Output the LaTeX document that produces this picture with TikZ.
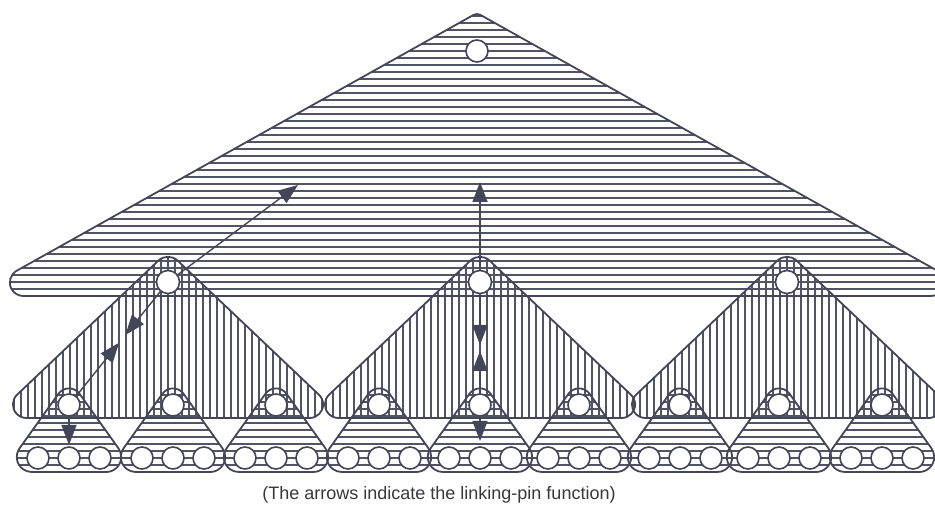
\documentclass[tikz,border=0pt]{standalone}
\usepackage{fontspec}
\setmainfont{Liberation Sans}
\usetikzlibrary{arrows.meta,calc}
\definecolor{linec}{RGB}{66,70,86}
\definecolor{hatchc}{RGB}{80,84,100}
\definecolor{txtc}{RGB}{55,55,65}
% rounded triangle: apex x, apex (sharp) y, base y, base angle, apex radius, base radius
\newcommand\tripath[6]{({#1-(#2-#3)/tan(#4)+#6/tan(#4/2)},#3) -- ({#1+(#2-#3)/tan(#4)-#6/tan(#4/2)},#3) arc[start angle=-90,end angle={90-#4},radius=#6pt] -- ({#1+#5*tan(#4)*cos(#4)},{#2-#5*tan(#4)*sin(#4)}) arc[start angle={90-#4},end angle={90+#4},radius=#5pt] -- ({#1-(#2-#3)/tan(#4)+#6/tan(#4/2)*cos(#4)},{#3+#6/tan(#4/2)*sin(#4)}) arc[start angle={90+#4},end angle=270,radius=#6pt] -- cycle}
\newcommand\toptri{\tripath{477}{497}{214}{29.25}{7}{13.5}}
\newcommand\midtri[1]{\tripath{#1}{258.5}{92}{43.5}{14}{13.5}}
\newcommand\bottri[1]{\tripath{#1}{131}{38}{54.5}{13}{15}}
\begin{document}
\begin{tikzpicture}[x=1pt,y=1pt,
  hatch/.style={draw=hatchc,line width=1.3pt},
  outl/.style={draw=linec,line width=1.8pt},
  pc/.style={circle,draw=linec,fill=white,line width=1.6pt,minimum size=22pt,inner sep=0pt},
  arr/.style={draw=linec,line width=1.4pt,-{Triangle[length=20pt,width=15pt]}}]
\useasboundingbox (0,0) rectangle (935,510);
% hatching of top organisation
\begin{scope}
  \clip \toptri;
  \foreach \k in {1,...,41} \draw[hatch] (-50,{214+\k*7}) -- (1000,{214+\k*7});
\end{scope}
% hatching of middle organisations
\foreach \c in {168,480,787} {
  \begin{scope}
    \clip \midtri{\c};
    \foreach \k in {-26,...,26} \draw[hatch] ({\c+\k*7},80) -- ({\c+\k*7},270);
  \end{scope}
}
% hatching of bottom organisations
\foreach \c in {69,173,276,379,480,579,680,779,882} {
  \begin{scope}
    \clip \bottri{\c};
    \foreach \k in {1,...,14} \draw[hatch] ({\c-70},{38+\k*7}) -- ({\c+70},{38+\k*7});
  \end{scope}
}
% outlines
\draw[outl] \toptri;
\foreach \c in {168,480,787} \draw[outl] \midtri{\c};
\foreach \c in {69,173,276,379,480,579,680,779,882} \draw[outl] \bottri{\c};
% linking pins
\node[pc] (t) at (477,459) {};
\foreach \c [count=\i] in {168,480,787} \node[pc,minimum size=23pt] (m\i) at (\c,228) {};
\foreach \c [count=\i] in {69,173,276,379,480,579,680,779,882} {
  \node[pc] (b\i) at (\c,105) {};
  \node[pc] (r\i-a) at ({\c-31},52) {};
  \node[pc] (r\i-b) at (\c,52) {};
  \node[pc] (r\i-c) at ({\c+31},52) {};
}
% arrows
\coordinate (up1) at (298,325);
\coordinate (up2) at (480,328);
\coordinate (dn1) at (69,65);
\coordinate (dn2) at (480,69);
\draw[arr] (m1) -- (up1);
\draw[arr] (m1) -- ($(m1.center)!68pt!(b1.center)$);
\draw[arr] (b1) -- ($(b1.center)!80pt!(m1.center)$);
\draw[arr] (b1) -- (dn1);
\draw[arr] (m2) -- (up2);
\draw[arr] (m2) -- ($(m2.center)!63pt!(b5.center)$);
\draw[arr] (b5) -- ($(b5.center)!54pt!(m2.center)$);
\draw[arr] (b5) -- (dn2);
% caption
\node[font=\fontsize{18}{21}\selectfont,text=txtc] (cap) at (439,15) {(The arrows indicate the linking-pin function)};
\end{tikzpicture}
\end{document}
